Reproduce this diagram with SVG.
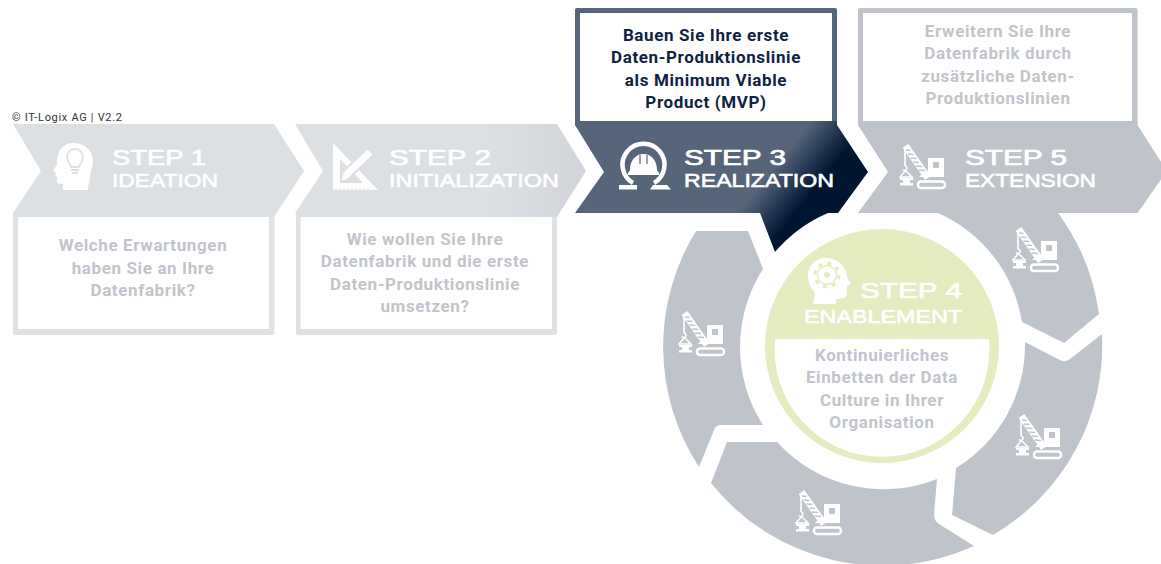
<svg xmlns="http://www.w3.org/2000/svg" width="1161" height="564" viewBox="0 0 1161 564">
<style>
.body{font-family:"Roboto","Liberation Sans",sans-serif;font-weight:700;font-size:17px;letter-spacing:.62px;text-anchor:middle;fill:#c0c4cb}
.dark{fill:#0e2340}
.t1{font-family:"Liberation Sans","Roboto",sans-serif;font-weight:400;font-size:21.500px;fill:#fff;stroke:#fff;stroke-width:.7px}
.t2{font-family:"Liberation Sans","Roboto",sans-serif;font-weight:400;font-size:18px;fill:#fff;stroke:#fff;stroke-width:.6px}
.seg{fill:#bfc4cb}
</style>
<defs>
<linearGradient id="g3" gradientUnits="userSpaceOnUse" x1="800" y1="134" x2="838" y2="164"><stop offset="0" stop-color="#56657a"/><stop offset=".95" stop-color="#001530"/></linearGradient>
<linearGradient id="g2" gradientUnits="userSpaceOnUse" x1="490" y1="0" x2="590" y2="0"><stop offset="0" stop-color="#dde0e3"/><stop offset="1" stop-color="#d0d4d9"/></linearGradient>
<g id="crane">
<path d="M5.500,1 L28,33" fill="none" stroke="#fff" stroke-width="7"/>
<path d="M6,5 L10.500,5.500 M8,9 L13.500,9.500 M10.500,13 L16.500,13.500 M13.500,17 L19,17.500 M16,21 L22,21.500 M19,25 L25,25.500" fill="none" stroke="currentColor" stroke-width="1.300"/>
<path d="M5,2 V21" fill="none" stroke="#fff" stroke-width="1.600"/>
<path d="M5,21 a2.200,2.200 0 1 1 -2,3.500 M0,32 L5.500,25.500 L12,32 Z" fill="none" stroke="#fff" stroke-width="1.500"/>
<path d="M0,33 H13 V35 H10 V38 H13 V40.500 H0 V38 H3 V35 H0 Z" fill="#fff"/>
<path d="M28,13 H44 V32 H19 L22,29 H28 Z M33,17 V23 H39 V17 Z" fill="#fff" fill-rule="evenodd"/>
<rect x="18" y="36.500" width="27" height="6.500" rx="3" fill="none" stroke="#fff" stroke-width="2.500"/>
</g>
</defs>
<rect width="1161" height="564" fill="#fff"/>
<text x="12" y="120.500" font-family="Roboto,'Liberation Sans',sans-serif" font-size="11" fill="#333" textLength="110">© IT-Logix AG | V2.2</text>

<g id="connectors" style="color:#bfc4cb">
<path class="seg" d="M938,213 A144,144 0 0 1 1022,322 L1064,343 L1099,314 A220,220 0 0 0 1058,213 Z"/>
<path class="seg" d="M1025,342 L1060,360 Q1065,363 1070,359 L1102,334 A220,220 0 0 1 993,535 L952,515 L956,468 A144,144 0 0 0 1025,342 Z"/>
<path class="seg" d="M727,442 H777 A144,144 0 0 0 937,479 L934,515 Q934,521 939,524 L974,546 A220,220 0 0 1 711,483 Z"/>
<path class="seg" d="M699,467 A220,220 0 0 1 696,231 H748 L763,269 A144,144 0 0 0 763,425 H721 Q716,425 714,430 Z"/>
<use href="#crane" x="1013" y="228"/>
<use href="#crane" x="1016" y="415"/>
<use href="#crane" x="796" y="491"/>
<use href="#crane" x="679" y="312"/>
</g>

<g id="step1">
<rect x="13" y="212" width="261.500" height="123" rx="2" fill="#dfe2e5"/>
<rect x="18" y="217" width="251" height="112" fill="#fff"/>
<path d="M13,124 H274 L304,171 L274,217 H18 L13,213 L41,171 Z" fill="#dde0e3"/>
<path d="M73,143 C84,143 93,150 93,161 C93,167 90,171 90,177 C90,182 88,184 88,190 H63 L63,184 C60,184 57,184 57,181 L57,177 L55,176 L56,173 L53,170 L57,165 C56,153 62,143 73,143 Z" fill="#fff"/>
<path d="M71,167 C70,163 67,162 67,157 C67,152 71,149 75,149 C79,149 83,152 83,157 C83,162 80,163 79,167 Z M71,170 H79 M72,173 H78" fill="none" stroke="#dde0e3" stroke-width="1.800"/>
<text class="t1" x="112" y="164.500" textLength="94" lengthAdjust="spacingAndGlyphs">STEP 1</text>
<text class="t2" x="112" y="187" textLength="106" lengthAdjust="spacingAndGlyphs">IDEATION</text>
<text class="body" x="143" y="251">Welche Erwartungen</text>
<text class="body" x="143" y="273.500">haben Sie an Ihre</text>
<text class="body" x="143" y="296">Datenfabrik?</text>
</g>

<g id="step2">
<rect x="296" y="212" width="261" height="123" rx="2" fill="#dfe2e5"/>
<rect x="300.500" y="217" width="251.500" height="112" fill="#fff"/>
<path d="M295,124 H557 L586,171 L557,217 H300 L295,213 L323,171 Z" fill="url(#g2)"/>
<path d="M333,143 L378,190 H333 Z" fill="#fff"/>
<path d="M340,159 V183 H363 Z" fill="#dde0e3"/>
<path d="M345,176 L370,152" stroke="#dde0e3" stroke-width="11" fill="none"/>
<path d="M345,176 L370,152" stroke="#fff" stroke-width="7" fill="none"/>
<path d="M342,180 L348,179 L343,174 Z" fill="#fff"/>
<path d="M336,190 V188 M340,190 V188 M344,190 V188 M348,190 V188 M352,190 V188 M356,190 V188 M360,190 V188 M364,190 V188 M368,190 V188" stroke="#dde0e3"/>
<text class="t1" x="389" y="164.500" textLength="102" lengthAdjust="spacingAndGlyphs">STEP 2</text>
<text class="t2" x="389" y="187" textLength="170" lengthAdjust="spacingAndGlyphs">INITIALIZATION</text>
<text class="body" x="425" y="244.500">Wie wollen Sie Ihre</text>
<text class="body" x="425" y="267">Datenfabrik und die erste</text>
<text class="body" x="425" y="289.500">Daten-Produktionslinie</text>
<text class="body" x="425" y="312">umsetzen?</text>
</g>

<g id="step3">
<rect x="575" y="8" width="262" height="118" rx="2" fill="#56657a"/>
<rect x="580" y="13" width="252" height="108" fill="#fff"/>
<path d="M575,125 L575,121 H837 L837,125 L868,172 L838,213 H828 A144,144 0 0 0 775,252 L760,213 H575 L604,172 Z" fill="url(#g3)"/>
<path d="M633,183 A21,21 0 1 1 654,183" fill="none" stroke="#fff" stroke-width="4.500"/>
<path d="M630,170 C630,160 636,154 643.500,154 C651,154 657,160 657,170 L659,173 V175 H628 V173 Z" fill="#fff"/>
<path d="M640,155 L640,164 M647,155 L647,164" stroke="#56657a" stroke-width="1.200"/>
<rect x="619" y="185" width="18" height="4.500" fill="#fff"/>
<path d="M650,189.500 L653,185 H667 L671,189.500 Z" fill="#fff"/>
<text class="t1" x="684" y="164.500" textLength="102" lengthAdjust="spacingAndGlyphs">STEP 3</text>
<text class="t2" x="684" y="187" textLength="150" lengthAdjust="spacingAndGlyphs">REALIZATION</text>
<text class="body dark" x="706" y="41">Bauen Sie Ihre erste</text>
<text class="body dark" x="706" y="63">Daten-Produktionslinie</text>
<text class="body dark" x="706" y="85.500">als Minimum Viable</text>
<text class="body dark" x="706" y="108">Product (MVP)</text>
</g>

<g id="step5" style="color:#bfc4cb">
<rect x="858" y="8" width="279.500" height="118" rx="2" fill="#bfc4cb"/>
<rect x="863" y="13" width="269" height="108" fill="#fff"/>
<path d="M858,125 V121 H1137.500 V125 L1167,171 L1137.500,213 H858 L888,172 Z" fill="#bfc4cb"/>
<use href="#crane" x="900" y="145"/>
<text class="t1" x="965" y="164.500" textLength="102" lengthAdjust="spacingAndGlyphs">STEP 5</text>
<text class="t2" x="965" y="187" textLength="131" lengthAdjust="spacingAndGlyphs">EXTENSION</text>
<text class="body" x="998" y="37">Erweitern Sie Ihre</text>
<text class="body" x="998" y="59">Datenfabrik durch</text>
<text class="body" x="998" y="81.500">zusätzliche Daten-</text>
<text class="body" x="998" y="104">Produktionslinien</text>
</g>

<g id="step4">
<circle cx="882" cy="346" r="117" fill="#e6ebc0"/>
<path d="M775,339 H989 A107.500,107.500 0 1 1 775,339 Z" fill="#fff"/>
<path d="M826,258 C839,258 847,268 847,277 L851,284 L847,286 L847,293 C847,298 843,299 836,299 V304 H813 L815,293 C811,288 808,282 808,275 C808,265 816,258 826,258 Z" fill="#fff"/>
<circle cx="827" cy="275" r="9.500" fill="none" stroke="#e6ebc0" stroke-width="1.500"/>
<circle cx="827" cy="275" r="12" fill="none" stroke="#e6ebc0" stroke-width="3" stroke-dasharray="4 5.420"/>
<circle cx="827" cy="275" r="3" fill="#e6ebc0"/>
<text class="t1" x="860" y="297.500" textLength="102" lengthAdjust="spacingAndGlyphs">STEP 4</text>
<text class="t2" x="804" y="323" textLength="158" lengthAdjust="spacingAndGlyphs">ENABLEMENT</text>
<text class="body" x="882" y="361">Kontinuierliches</text>
<text class="body" x="882" y="383">Einbetten der Data</text>
<text class="body" x="882" y="405.500">Culture in Ihrer</text>
<text class="body" x="882" y="428">Organisation</text>
</g>
</svg>
